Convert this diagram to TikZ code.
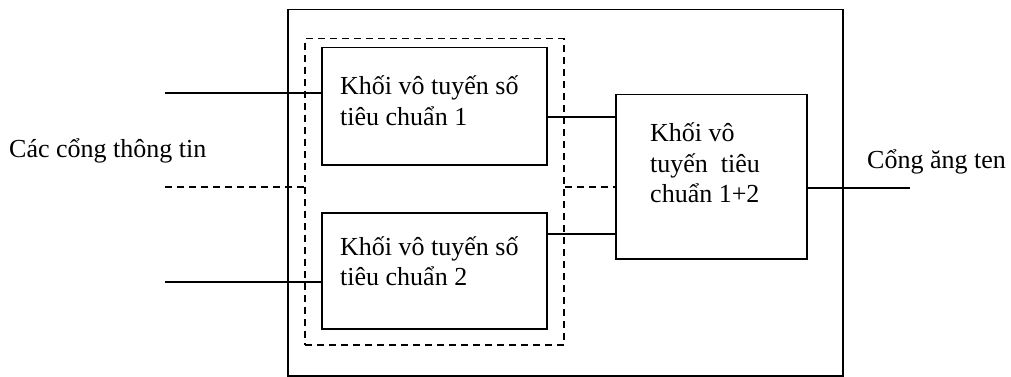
\documentclass[tikz,border=0pt]{standalone}
\usepackage{fontspec}
\setmainfont{Liberation Serif}
\begin{document}
\begin{tikzpicture}[x=1pt,y=-1pt,
  blk/.style={draw,line width=1.5pt,inner sep=0pt,anchor=north west},
  dbox/.style={draw,line width=1.5pt,dash pattern=on 7pt off 5pt,inner sep=0pt,anchor=north west},
  wire/.style={line width=1.5pt},
  dwire/.style={line width=1.5pt,dash pattern=on 7pt off 5pt},
  lbl/.style={anchor=base west,inner sep=0pt,font=\fontsize{26}{30}\selectfont}]
\useasboundingbox (0,0) rectangle (1011,377);
% boxes
\node[blk,minimum width=555pt,minimum height=366pt] (outer) at (287,9) {};
\node[dbox,minimum width=259pt,minimum height=306pt] (grp) at (304,38) {};
\node[blk,minimum width=225pt,minimum height=117pt] (b1) at (321,47) {};
\node[blk,minimum width=225pt,minimum height=116pt] (b2) at (321,212) {};
\node[blk,minimum width=191pt,minimum height=164pt] (rb) at (615,94) {};
% texts
\node[lbl] (t1a) at (340,95) {Khối vô tuyến số};
\node[lbl] (t1b) at (340,125) {tiêu chuẩn 1};
\node[lbl] (t2a) at (340,255) {Khối vô tuyến số};
\node[lbl] (t2b) at (340,285) {tiêu chuẩn 2};
\node[lbl] (t3a) at (650,142) {Khối vô};
\node[lbl] (t3b) at (650,172) {tuyến\ \ tiêu};
\node[lbl] (t3c) at (650,202) {chuẩn 1+2};
\node[lbl] (lin) at (9,157) {Các cổng thông tin};
\node[lbl] (lout) at (867,168) {Cổng ăng ten};
% free ends
\coordinate (i1) at (165,93);
\coordinate (i2) at (165,187);
\coordinate (i3) at (165,282);
\coordinate (o1) at (910,188);
% connectors
\draw[wire] (i1) -- (b1.west |- i1);
\draw[dwire] (i2) -- (grp.west |- i2);
\draw[wire] (i3) -- (b2.west |- i3);
\draw[wire] (b1.east |- 0,117) -- (rb.west |- 0,117);
\draw[wire] (b2.east |- 0,234) -- (rb.west |- 0,234);
\draw[dwire] (grp.east |- 0,187) -- (rb.west |- 0,187);
\draw[wire] (rb.east |- o1) -- (o1);
\end{tikzpicture}
\end{document}
